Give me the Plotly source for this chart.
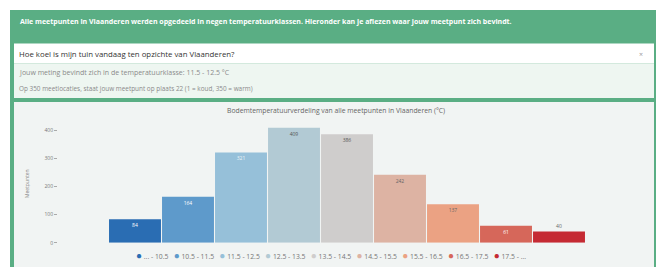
import plotly.graph_objects as go

# ---- data ----
categories = ["... - 10.5", "10.5 - 11.5", "11.5 - 12.5", "12.5 - 13.5", "13.5 - 14.5",
              "14.5 - 15.5", "15.5 - 16.5", "16.5 - 17.5", "17.5 - ..."]
counts = [84, 164, 321, 409, 386, 242, 137, 61, 40]
bar_colors = ["#2a6db3", "#5e9acb", "#96c0d9", "#b2cad4", "#cfcdcc",
              "#ddb3a3", "#eba283", "#d6675a", "#c52a33"]
label_colors = ["#ffffff", "#ffffff", "#eef4f8", "#555555", "#555555",
                "#666666", "#666666", "#ffffff", "#666666"]
label_pos = ["inside"] * 8 + ["outside"]
y_ticks = [0, 100, 200, 300, 400]

header = ("Alle meetpunten in Vlaanderen werden opgedeeld in negen temperatuurklassen. "
          "Hieronder kan je aflezen waar jouw meetpunt zich bevindt.")
question = "Hoe koel is mijn tuin vandaag ten opzichte van Vlaanderen?"
line2 = "Jouw meting bevindt zich in de temperatuurklasse: 11.5 - 12.5 °C"
line3 = "Op 350 meetlocaties, staat jouw meetpunt op plaats 22 (1 = koud, 350 = warm)"
chart_title = "Bodemtemperatuurverdeling van alle meetpunten in Vlaanderen (°C)"
y_title = "Meetpunten"

OFF = 8  # default page margin of the html body
W, H = 664 - OFF, 270 - OFF
FONT = "Open Sans"


def px(x):
    return (x - OFF) / W


def py(y):
    return 1 - (y - OFF) / H


fig = go.Figure()
fig.add_trace(go.Bar(
    x=categories, y=counts,
    marker=dict(color=bar_colors, line=dict(width=0)),
    text=[str(c) for c in counts],
    textposition=label_pos,
    insidetextanchor="end",
    textangle=0,
    constraintext="none",
    textfont=dict(size=5, color=label_colors, family=FONT),
    outsidetextfont=dict(size=5, color="#666666", family=FONT),
    cliponaxis=False,
    showlegend=False,
    hoverinfo="x+y",
))

# plot geometry (reference pixel coordinates)
bar_left, bar_right = 108.5, 585.5
dom_left, dom_right = 58, 640
cw = (bar_right - bar_left) / len(categories)
xr = [-0.5 - (bar_left - dom_left) / cw, len(categories) - 0.5 + (dom_right - bar_right) / cw]
y0_px, y400_px = 245.5, 131.7
per = (y0_px - y400_px) / 400
ytop = 420
ytop_px = y0_px - ytop * per

shapes = [
    dict(type="rect", xref="paper", yref="paper", x0=px(10), x1=px(661), y0=py(270), y1=py(10),
         fillcolor="#5aae84", line=dict(width=0), layer="below"),
    dict(type="rect", xref="paper", yref="paper", x0=px(14), x1=px(654), y0=py(64), y1=py(44),
         fillcolor="#ffffff", line=dict(width=0), layer="below"),
    dict(type="rect", xref="paper", yref="paper", x0=px(14), x1=px(654), y0=py(99), y1=py(64),
         fillcolor="#eef6f1", line=dict(width=0), layer="below"),
    dict(type="rect", xref="paper", yref="paper", x0=px(14), x1=px(654), y0=py(270), y1=py(103),
         fillcolor="#f1f4f3", line=dict(width=0), layer="below"),
]

legend_html = "&nbsp;&nbsp;&nbsp;".join(
    f'<span style="color:{c};font-size:10px">●</span> {cat}' for c, cat in zip(bar_colors, categories))

annotations = [
    dict(text=f"<b>{header}</b>", x=px(18), y=py(22), xref="paper", yref="paper",
         xanchor="left", yanchor="middle", showarrow=False,
         font=dict(size=7, color="#ffffff", family=FONT)),
    dict(text=question, x=px(17), y=py(55), xref="paper", yref="paper",
         xanchor="left", yanchor="middle", showarrow=False,
         font=dict(size=7.8, color="#333333", family=FONT)),
    dict(text="×", x=px(641), y=py(55), xref="paper", yref="paper",
         xanchor="center", yanchor="middle", showarrow=False,
         font=dict(size=7, color="#999999", family=FONT)),
    dict(text=line2, x=px(17), y=py(73), xref="paper", yref="paper",
         xanchor="left", yanchor="middle", showarrow=False,
         font=dict(size=7, color="#8a8a8a", family=FONT)),
    dict(text=line3, x=px(17), y=py(89), xref="paper", yref="paper",
         xanchor="left", yanchor="middle", showarrow=False,
         font=dict(size=6.4, color="#8a8a8a", family=FONT)),
    dict(text=chart_title, x=px(336), y=py(112), xref="paper", yref="paper",
         xanchor="center", yanchor="middle", showarrow=False,
         font=dict(size=6.8, color="#666666", family=FONT)),
    dict(text=legend_html, x=px(331), y=py(258), xref="paper", yref="paper",
         xanchor="center", yanchor="middle", showarrow=False,
         font=dict(size=6.8, color="#777777", family=FONT)),
]

fig.update_layout(
    width=W, height=H,
    margin=dict(l=0, r=0, t=0, b=0),
    paper_bgcolor="#ffffff",
    plot_bgcolor="rgba(0,0,0,0)",
    bargap=0.02,
    shapes=shapes,
    annotations=annotations,
    font=dict(family=FONT),
    xaxis=dict(domain=[px(dom_left), px(dom_right)], range=xr, showticklabels=False,
               showgrid=False, zeroline=False, showline=False, ticks="", fixedrange=True),
    yaxis=dict(domain=[py(y0_px), py(ytop_px)], range=[0, ytop], tickvals=y_ticks,
               showgrid=False, zeroline=False, showline=False,
               ticks="outside", ticklen=3, tickcolor="#aaaaaa",
               tickfont=dict(size=5, color="#777777", family=FONT),
               title=dict(text=y_title, font=dict(size=5, color="#888888", family=FONT),
                          standoff=14)),
)

fig.write_html("out.html")
